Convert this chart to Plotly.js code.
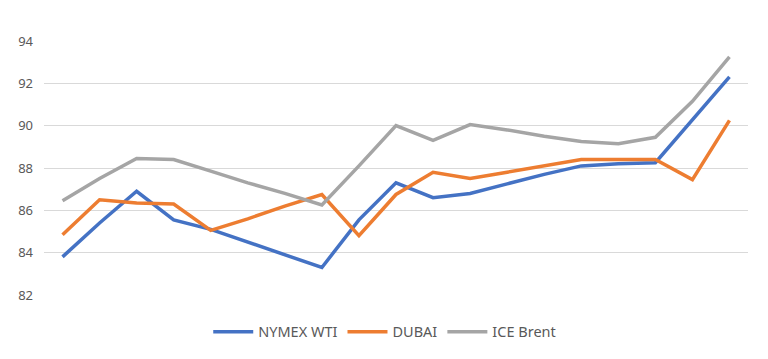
<!DOCTYPE html>
<html>
<head>
<meta charset="utf-8">
<script src="https://cdn.plot.ly/plotly-3.0.1.min.js"></script>
<style>html,body{margin:0;padding:0;background:#fff;}#chart{width:768px;height:359px;}</style>
</head>
<body>
<div id="chart"></div>
<script>
const periods = [1,2,3,4,5,6,7,8,9,10,11,12,13,14,15,16,17,18,19];
const nymexWTI = [83.8,85.4,86.9,85.55,85.1,84.5,83.9,83.3,85.55,87.3,86.6,86.8,87.25,87.7,88.1,88.2,88.25,90.3,92.3];
const dubai    = [84.85,86.5,86.35,86.3,85.05,85.6,86.2,86.75,84.8,86.75,87.8,87.5,87.8,88.1,88.4,88.4,88.4,87.45,90.25];
const iceBrent = [86.45,87.5,88.45,88.4,87.85,87.3,86.8,86.25,88.1,90.0,89.3,90.05,89.8,89.5,89.25,89.15,89.45,91.15,93.25];
const yTicks = [82,84,86,88,90,92,94];

const mk = (name, y, color) => ({
  x: periods, y: y, name: name, type: 'scatter', mode: 'lines',
  line: {color: color, width: 3.5, shape: 'linear'}, hoverinfo: 'skip'
});

const data = [
  mk('NYMEX WTI', nymexWTI, '#4472C4'),
  mk('DUBAI', dubai, '#ED7D31'),
  mk('ICE Brent', iceBrent, '#A5A5A5')
];

const layout = {
  width: 768, height: 359,
  margin: {l: 44, r: 20, t: 41, b: 63, pad: 0},
  paper_bgcolor: '#ffffff', plot_bgcolor: '#ffffff',
  font: {family: 'Noto Sans, Open Sans, sans-serif', size: 13, color: '#595959'},
  xaxis: {
    type: 'linear', range: [0.5, 19.5], showticklabels: false, showgrid: false,
    zeroline: false, showline: false, ticks: ''
  },
  yaxis: {
    range: [82, 94], tickvals: yTicks, ticktext: yTicks.map(String),
    showgrid: true, gridcolor: '#D9D9D9', gridwidth: 1, zeroline: false,
    showline: false, ticks: '', ticklabelstandoff: 10,
    tickfont: {size: 13, color: '#595959'}
  },
  showlegend: true,
  legend: {
    orientation: 'h', x: 0.484, xanchor: 'center', y: -0.14, yanchor: 'middle',
    font: {size: 14.5, color: '#595959'}, itemwidth: 40, tracegroupgap: 0
  }
};

Plotly.newPlot('chart', data, layout, {displayModeBar: false, staticPlot: true});
</script>
</body>
</html>
